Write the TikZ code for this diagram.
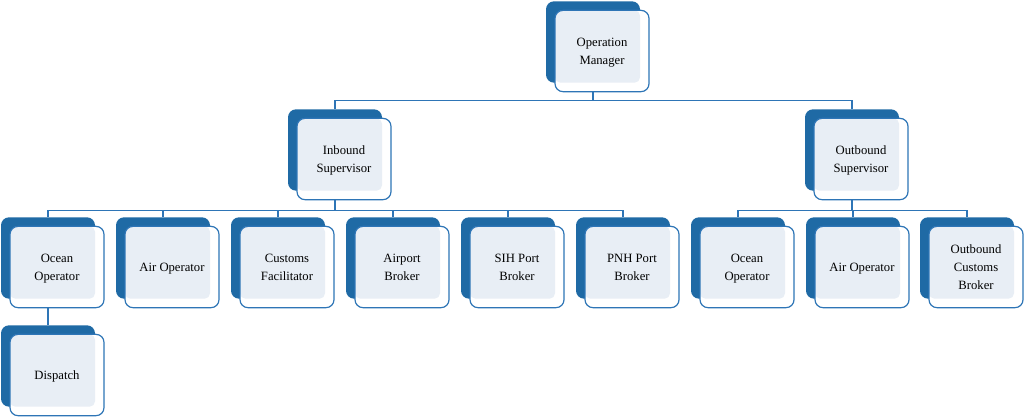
\documentclass[tikz,border=0pt]{standalone}
\usepackage{fontspec}
\setmainfont{Liberation Serif}
\definecolor{darkblue}{HTML}{1F6AA5}
\definecolor{lineblue}{HTML}{2E75B6}
\definecolor{paleblue}{HTML}{E8EEF5}

\begin{document}
\begin{tikzpicture}[x=0.75pt, y=-0.75pt,
    back/.style={fill=darkblue, rounded corners=6pt, minimum width=70.5pt, minimum height=61pt, inner sep=0pt},
    front/.style={draw=lineblue, line width=0.9pt, fill=white, rounded corners=6pt, minimum width=70.5pt,
        minimum height=61pt, inner sep=2pt, align=center, text depth=-2.4pt, font=\fontsize{9.5}{13.5}\selectfont,
        path picture={\fill[paleblue, rounded corners=4pt] (path picture bounding box.north west)
            rectangle ([shift={(-6.75pt,6.75pt)}]path picture bounding box.south east);}},
    conn/.style={draw=lineblue, line width=0.8pt}]

\useasboundingbox (0,0) rectangle (1024,419);

% top level
\node[back] (omB) at (593,42) {};
\node[front] (om) at (602,51) {Operation\\Manager};

% supervisors
\node[back] (inB) at (335,150) {};
\node[front] (in) at (344,159) {Inbound\\Supervisor};
\node[back] (outB) at (852,150) {};
\node[front] (out) at (861,159) {Outbound\\Supervisor};

% inbound staff
\node[back] (ocB) at (48,258) {};
\node[front] (oc) at (57,267) {Ocean\\Operator};
\node[back] (airB) at (163,258) {};
\node[front] (air) at (172,267) {Air Operator};
\node[back] (cusB) at (278,258) {};
\node[front] (cus) at (287,267) {Customs\\Facilitator};
\node[back] (apB) at (393,258) {};
\node[front] (ap) at (402,267) {Airport\\Broker};
\node[back] (sihB) at (508,258) {};
\node[front] (sih) at (517,267) {SIH Port\\Broker};
\node[back] (pnhB) at (623,258) {};
\node[front] (pnh) at (632,267) {PNH Port\\Broker};

% outbound staff
\node[back] (oc2B) at (738,258) {};
\node[front] (oc2) at (747,267) {Ocean\\Operator};
\node[back] (air2B) at (853,258) {};
\node[front] (air2) at (862,267) {Air Operator};
\node[back] (ocbB) at (967,258) {};
\node[front] (ocb) at (976,267) {Outbound\\Customs\\Broker};

% under ocean operator
\node[back] (diB) at (48,366) {};
\node[front] (di) at (57,375) {Dispatch};

% connectors
\draw[conn] (om.south -| omB) -- ++(0,8) -| (inB.north);
\draw[conn] (om.south -| omB) -- ++(0,8) -| (outB.north);
\foreach \c in {ocB,airB,cusB,apB,sihB,pnhB}
    \draw[conn] (in.south -| inB) -- ++(0,10) -| (\c.north);
\foreach \c in {oc2B,air2B,ocbB}
    \draw[conn] (out.south -| outB) -- ++(0,10) -| (\c.north);
\draw[conn] (oc.south -| ocB) -- (diB.north);

\end{tikzpicture}
\end{document}
